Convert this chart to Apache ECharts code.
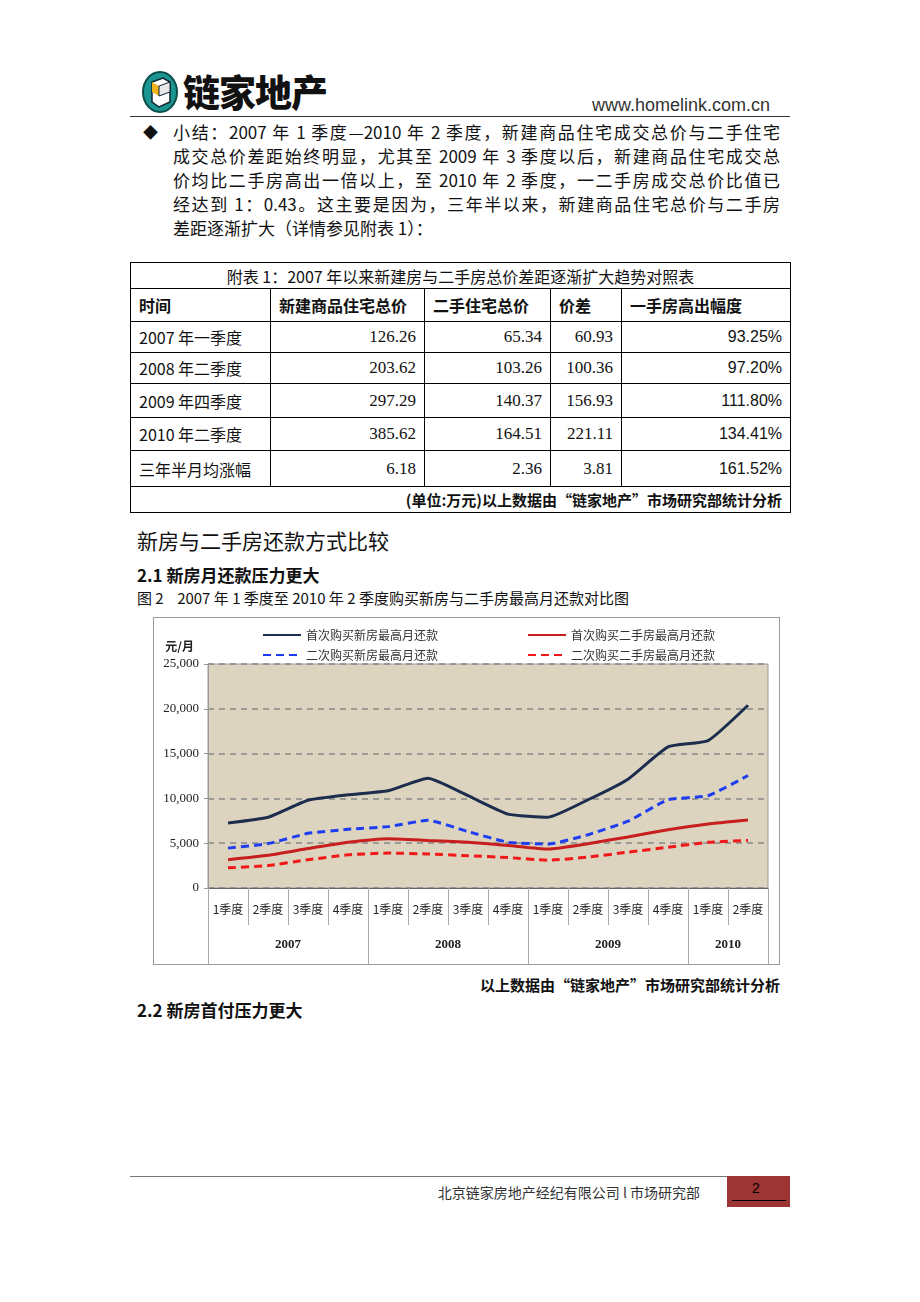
<!DOCTYPE html>
<html><head><meta charset="utf-8">
<script src="https://cdn.jsdelivr.net/npm/echarts@6/dist/echarts.min.js"></script>
<style>
html,body{margin:0;padding:0;background:#fff;}
body{width:920px;height:1302px;position:relative;overflow:hidden;font-family:"Noto Sans CJK SC","Noto Sans",sans-serif;color:#111;}
.abs{position:absolute;white-space:nowrap;}
.pl{position:absolute;left:173px;width:607px;font-size:17px;line-height:24px;height:24px;text-align:justify;text-align-last:justify;white-space:nowrap;}
table{position:absolute;left:130px;top:262px;width:660px;border-collapse:collapse;font-size:16px;table-layout:fixed;}
td{border:1px solid #000;padding:0 8px;white-space:nowrap;overflow:hidden;}
.num{text-align:right;font-family:"Liberation Serif","DejaVu Serif",serif;font-size:17px;}
.pct{text-align:right;font-family:"Liberation Sans",Arial,sans-serif;font-size:16px;}
</style></head>
<body>
<!-- header -->
<svg class="abs" style="left:141px;top:70px" width="40" height="44" viewBox="0 0 40 44">
 <ellipse cx="19" cy="22" rx="17" ry="20" fill="#1b958f" stroke="#0e4c49" stroke-width="2"/>
 <polygon points="11,12 22,8 29,12 29,32 18,37 11,32" fill="#fff" stroke="#123" stroke-width="1.5"/>
 <polygon points="11,12 18,16 18,26 11,22" fill="#f2b21c"/>
 <polygon points="18,16 29,12 29,22 18,26" fill="#e8e8e8" stroke="#123" stroke-width="1"/>
</svg>
<div class="abs" style="left:183px;top:66px;font-size:37px;font-weight:900;letter-spacing:-1px;line-height:50px;color:#111;">链家地产</div>
<div class="abs" style="left:592px;top:94px;font-size:18px;font-family:'Liberation Sans',Arial,sans-serif;color:#333;line-height:22px;">www.homelink.com.cn</div>
<div class="abs" style="left:130px;top:116px;width:660px;height:0;border-top:1.5px solid #333;"></div>

<div class="abs" style="left:143px;top:121px;font-size:15px;line-height:22px;">◆</div>
<div class="pl" style="top:120px">小结：2007 年 1 季度—2010 年 2 季度，新建商品住宅成交总价与二手住宅</div>
<div class="pl" style="top:144px">成交总价差距始终明显，尤其至 2009 年 3 季度以后，新建商品住宅成交总</div>
<div class="pl" style="top:168px">价均比二手房高出一倍以上，至 2010 年 2 季度，一二手房成交总价比值已</div>
<div class="pl" style="top:192px">经达到 1：0.43。这主要是因为，三年半以来，新建商品住宅总价与二手房</div>
<div class="pl" style="top:216px;text-align:left;text-align-last:left;width:auto;">差距逐渐扩大（详情参见附表 1）：</div>

<table>
<colgroup><col style="width:140px"><col style="width:154px"><col style="width:126px"><col style="width:71px"><col style="width:169px"></colgroup>
<tr style="height:26px"><td colspan="5" style="text-align:center;font-size:16px;">附表 1：2007 年以来新建房与二手房总价差距逐渐扩大趋势对照表</td></tr>
<tr style="height:33px;font-weight:bold;"><td>时间</td><td>新建商品住宅总价</td><td>二手住宅总价</td><td>价差</td><td>一手房高出幅度</td></tr>
<tr style="height:31px"><td>2007 年一季度</td><td class="num">126.26</td><td class="num">65.34</td><td class="num">60.93</td><td class="pct">93.25%</td></tr>
<tr style="height:31px"><td>2008 年二季度</td><td class="num">203.62</td><td class="num">103.26</td><td class="num">100.36</td><td class="pct">97.20%</td></tr>
<tr style="height:34px"><td>2009 年四季度</td><td class="num">297.29</td><td class="num">140.37</td><td class="num">156.93</td><td class="pct">111.80%</td></tr>
<tr style="height:33px"><td>2010 年二季度</td><td class="num">385.62</td><td class="num">164.51</td><td class="num">221.11</td><td class="pct">134.41%</td></tr>
<tr style="height:36px"><td>三年半月均涨幅</td><td class="num">6.18</td><td class="num">2.36</td><td class="num">3.81</td><td class="pct">161.52%</td></tr>
<tr style="height:26px"><td colspan="5" style="text-align:right;font-size:15px;font-weight:bold;">(单位:万元)以上数据由“链家地产”市场研究部统计分析</td></tr>
</table>

<div class="abs" style="left:137px;top:526px;font-size:21px;line-height:28px;">新房与二手房还款方式比较</div>
<div class="abs" style="left:137px;top:564px;font-size:17px;line-height:22px;font-weight:bold;">2.1 新房月还款压力更大</div>
<div class="abs" style="left:137px;top:588px;font-size:15px;line-height:20px;">图 2&nbsp;&nbsp;&nbsp; 2007 年 1 季度至 2010 年 2 季度购买新房与二手房最高月还款对比图</div>

<div class="abs" style="left:153px;top:617px;width:625px;height:346px;border:1px solid #999;">
  <div id="chart" style="width:625px;height:346px;"></div>
</div>

<div class="abs" style="left:455px;top:975px;width:325px;text-align:right;font-size:15px;line-height:20px;font-weight:bold;">以上数据由“链家地产”市场研究部统计分析</div>
<div class="abs" style="left:137px;top:999px;font-size:17px;line-height:22px;font-weight:bold;">2.2 新房首付压力更大</div>

<!-- footer -->
<div class="abs" style="left:130px;top:1176px;width:597px;height:0;border-top:1.5px solid #777;"></div>
<div class="abs" style="left:420px;top:1182px;width:280px;text-align:right;font-size:14px;line-height:20px;color:#333;">北京链家房地产经纪有限公司 l 市场研究部</div>
<div class="abs" style="left:727px;top:1176px;width:63px;height:31px;background:#9d3535;"></div>
<div class="abs" style="left:752px;top:1179px;font-size:14px;line-height:18px;color:#000;font-family:'Liberation Sans',Arial,sans-serif;">2</div>
<div class="abs" style="left:732px;top:1200px;width:54px;height:0;border-top:1px solid #000;"></div>

<script>
const quarters = ['1季度','2季度','3季度','4季度','1季度','2季度','3季度','4季度','1季度','2季度','3季度','4季度','1季度','2季度'];
const years = ['2007','2008','2009','2010'];
const quartersPerYear = [4, 4, 4, 2];
const seriesNames = ['首次购买新房最高月还款','二次购买新房最高月还款','首次购买二手房最高月还款','二次购买二手房最高月还款'];
const firstNew   = [7250, 7900, 9800, 10400, 10850, 12250, 10300, 8250, 7900, 9850, 12150, 15750, 16450, 20400];
const secondNew  = [4450, 4950, 6100, 6550, 6850, 7550, 6300, 5100, 4900, 5950, 7450, 9850, 10300, 12550];
const firstUsed  = [3150, 3650, 4400, 5100, 5500, 5300, 5100, 4750, 4350, 4950, 5700, 6500, 7150, 7600];
const secondUsed = [2250, 2500, 3150, 3700, 3900, 3800, 3600, 3400, 3100, 3450, 4000, 4550, 5100, 5300];
const yMin = 0, yMax = 25000, yStep = 5000;
const yUnit = '元/月';

// year group boundaries and centers, derived from quarter counts
const yearBounds = [0];
quartersPerYear.forEach(n => yearBounds.push(yearBounds[yearBounds.length - 1] + n));
const yearCenters = years.map((y, i) => (yearBounds[i] + yearBounds[i + 1]) / 2);

const chart = echarts.init(document.getElementById('chart'));
const serifFont = '"Liberation Serif","DejaVu Serif",serif';
const cjk = '"Noto Sans CJK SC",sans-serif';
const styles = [
  {color: '#1c2d4d', type: 'solid'},
  {color: '#1f3df0', type: [8, 5]},
  {color: '#c81e1e', type: 'solid'},
  {color: '#f01818', type: [8, 5]}
];
const seriesData = [firstNew, secondNew, firstUsed, secondUsed];
const legendCommon = {orient: 'vertical', top: 6, itemWidth: 38, itemHeight: 12, itemGap: 8,
  itemStyle: {opacity: 0}, lineStyle: {width: 2},
  textStyle: {fontSize: 12, color: '#333', fontFamily: cjk}};

chart.setOption({
  animation: false,
  grid: {left: 54, top: 46, right: 11, bottom: 76, show: true, backgroundColor: '#dcd4bf', borderColor: '#9a9a9a', borderWidth: 1},
  legend: [
    Object.assign({data: [seriesNames[0], seriesNames[1]], left: 103}, legendCommon),
    Object.assign({data: [seriesNames[2], seriesNames[3]], left: 368}, legendCommon)
  ],
  xAxis: [
    {type: 'category', data: quarters, boundaryGap: true, position: 'bottom',
     axisLine: {lineStyle: {color: '#666', width: 1}},
     axisTick: {show: true, length: 37, lineStyle: {color: '#aaa'}},
     axisLabel: {interval: 0, margin: 15, fontSize: 12, color: '#222', fontFamily: cjk}},
    {type: 'value', min: 0, max: quarters.length, position: 'bottom',
     axisLine: {show: false}, splitLine: {show: false},
     axisTick: {show: true, length: 76, customValues: yearBounds, lineStyle: {color: '#aaa'}},
     axisLabel: {customValues: yearCenters, margin: 50, fontSize: 13, fontWeight: 'bold', color: '#222', fontFamily: serifFont,
       formatter: v => years[yearCenters.indexOf(v)]}}
  ],
  yAxis: {type: 'value', min: yMin, max: yMax, interval: yStep,
    name: yUnit, nameLocation: 'end', nameGap: 12,
    nameTextStyle: {align: 'right', padding: [0, 14, 0, 0], fontSize: 12, fontWeight: 'bold', color: '#222', fontFamily: cjk},
    axisLine: {show: true, lineStyle: {color: '#999'}},
    axisTick: {show: true, length: 4, lineStyle: {color: '#999'}},
    axisLabel: {fontSize: 13, color: '#222', fontFamily: serifFont, margin: 9,
      formatter: v => v.toLocaleString('en-US')},
    splitLine: {show: true, lineStyle: {color: '#888', type: [6, 5], width: 1.5}}},
  series: seriesNames.map((n, i) => ({
    name: n, type: 'line', xAxisIndex: 0, data: seriesData[i], symbol: 'none', smooth: 0.15,
    lineStyle: {color: styles[i].color, type: styles[i].type, width: 3},
    itemStyle: {color: styles[i].color}
  }))
});
</script>
</body></html>
